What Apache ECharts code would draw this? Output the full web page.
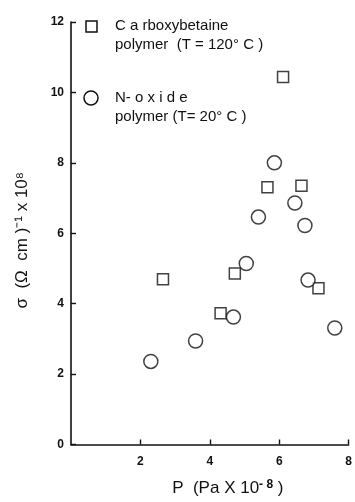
<!DOCTYPE html>
<html>
<head>
<meta charset="utf-8">
<script src="https://cdn.jsdelivr.net/npm/echarts@6/dist/echarts.min.js"></script>
<style>html,body{margin:0;padding:0;background:#fff}#c{width:355px;height:502px}</style>
</head>
<body>
<div id="c"></div>
<script>
// Carboxybetaine polymer (T = 120°C): [P, sigma]
const carboxyP = [2.65, 4.31, 4.72, 5.66, 6.11, 6.64, 7.13];
const carboxySigma = [4.69, 3.73, 4.86, 7.31, 10.44, 7.35, 4.44];
// N-oxide polymer (T = 20°C)
const noxideP = [2.30, 3.59, 4.68, 5.05, 5.40, 5.86, 6.45, 6.74, 6.83, 7.60];
const noxideSigma = [2.36, 2.94, 3.62, 5.14, 6.46, 8.00, 6.86, 6.22, 4.67, 3.31];
const xTicks = [0, 2, 4, 6, 8];
const yTicks = [0, 2, 4, 6, 8, 10, 12];

const zip = (a, b) => a.map((v, i) => [v, b[i]]);
const font = 'Liberation Sans, Arial, sans-serif';
const chart = echarts.init(document.getElementById('c'), null, {renderer: 'canvas'});
chart.setOption({
  animation: false,
  backgroundColor: '#fff',
  grid: {left: 71, right: 2, top: 22, bottom: 44, containLabel: false},
  xAxis: {
    type: 'value', min: xTicks[0], max: xTicks[xTicks.length - 1], interval: 2,
    name: 'P  (Pa X 10{s|- 8} )', nameLocation: 'middle', nameGap: 34,
    nameTextStyle: {fontFamily: font, fontSize: 17, color: '#111', padding: [0, 0, 0, 36],
      rich: {s: {fontSize: 12, verticalAlign: 'top', padding: [0, 0, 8, 0], fontFamily: font, fontWeight: 'bold'}}},
    axisLine: {lineStyle: {color: '#111', width: 1.6}},
    axisTick: {inside: true, length: 5, lineStyle: {color: '#111', width: 1.4}},
    axisLabel: {showMinLabel: false, fontFamily: font, fontSize: 12, fontWeight: 'bold', color: '#111', margin: 11},
    splitLine: {show: false}
  },
  yAxis: {
    type: 'value', min: yTicks[0], max: yTicks[yTicks.length - 1], interval: 2,
    name: 'σ  (Ω  cm )⁻¹ x 10⁸', nameLocation: 'middle', nameGap: 40, nameRotate: 90,
    nameTextStyle: {fontFamily: font, fontSize: 17, color: '#111', padding: [0, 14, 0, 0]},
    axisLine: {show: true, lineStyle: {color: '#111', width: 1.6}},
    axisTick: {show: true, inside: true, length: 5, lineStyle: {color: '#111', width: 1.4}},
    axisLabel: {fontFamily: font, fontSize: 12, fontWeight: 'bold', color: '#111', margin: 7},
    splitLine: {show: false}
  },
  series: [
    {type: 'scatter', name: 'Carboxybetaine', symbol: 'rect', symbolSize: 11,
      data: zip(carboxyP, carboxySigma),
      itemStyle: {color: '#fff', borderColor: '#111', borderWidth: 1.5}},
    {type: 'scatter', name: 'N-oxide', symbol: 'circle', symbolSize: 14,
      data: zip(noxideP, noxideSigma),
      itemStyle: {color: '#fff', borderColor: '#111', borderWidth: 1.5}}
  ],
  graphic: [
    {type: 'rect', shape: {x: 86, y: 21, width: 11, height: 11}, style: {fill: '#fff', stroke: '#111', lineWidth: 1.5}},
    {type: 'text', x: 115, y: 18, style: {text: 'C a rboxybetaine', font: '15px ' + font, fill: '#111'}},
    {type: 'text', x: 115, y: 37, style: {text: 'polymer  (T = 120° C )', font: '15px ' + font, fill: '#111'}},
    {type: 'circle', shape: {cx: 91, cy: 98, r: 7}, style: {fill: '#fff', stroke: '#111', lineWidth: 1.5}},
    {type: 'text', x: 115, y: 90, style: {text: 'N- o x i d e', font: '15px ' + font, fill: '#111'}},
    {type: 'text', x: 115, y: 109, style: {text: 'polymer (T= 20° C )', font: '15px ' + font, fill: '#111'}}
  ]
});
</script>
</body>
</html>
